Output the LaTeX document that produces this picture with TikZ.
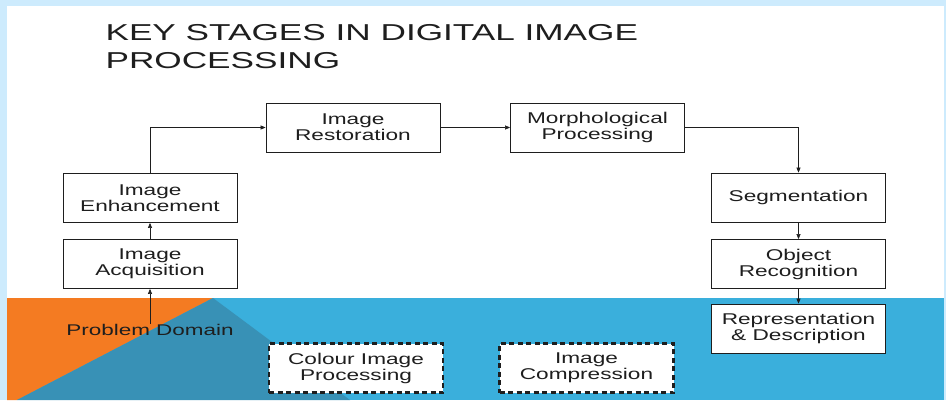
\documentclass[tikz,border=0pt]{standalone}
\usepackage{fontspec}
\usetikzlibrary{arrows.meta,positioning,calc}
\newfontfamily\stagefont[FakeStretch=1.45]{Liberation Sans}
\newfontfamily\titlefont[FakeStretch=1.53]{Liberation Sans}
\definecolor{frameblue}{HTML}{CDEBFD}
\definecolor{bandblue}{HTML}{3AAFDC}
\definecolor{bandteal}{HTML}{3891B6}
\definecolor{bandorange}{HTML}{F47B22}
\definecolor{inkgray}{HTML}{1E1E1E}
\tikzset{
  post/.style       = {-{Triangle[length=5pt,width=4pt]}, semithick, draw=inkgray},
  stage/.style      = {draw=inkgray, thick, fill=white, rectangle, minimum width=174pt,
                       minimum height=49pt, inner sep=0pt, align=center,
                       font=\stagefont\fontsize{15.6}{16}\selectfont, text=inkgray},
  spare/.style      = {stage, line width=2.4pt, dash pattern=on 5pt off 3.5pt},
  domaintext/.style = {inner sep=0pt, font=\stagefont\fontsize{15.5}{17}\selectfont, text=inkgray}
}
\begin{document}
\begin{tikzpicture}[x=1pt,y=-1pt]
  \useasboundingbox (0,0) rectangle (946,400);
  % frame and coloured band
  \fill[frameblue] (0,0) rectangle (946,400);
  \fill[white] (7,6) rectangle (944,298);
  \fill[bandblue] (7,298) rectangle (944,400);
  \fill[bandorange] (7,298) -- (213,298) -- (17,400) -- (7,400) -- cycle;
  \fill[bandteal] (213,298) -- (350,400) -- (17,400) -- cycle;

  \node[anchor=base west, align=left, text=inkgray,
        font=\titlefont\fontsize{23}{28}\selectfont] (title) at (102,68)
        {KEY STAGES IN DIGITAL IMAGE\\PROCESSING};

  % main chain
  \node[stage] (acq)   at (150,264)   {Image\\Acquisition};
  \node[stage] (enh)   at (150,198)   {Image\\Enhancement};
  \node[stage] (rest)  at (353,127.5) {Image\\Restoration};
  \node[stage] (morph) at (597.5,127.5) {Morphological\\Processing};
  \node[stage] (seg)   at (798.5,197.5) {Segmentation};
  \node[stage] (obj)   at (798.5,264) {Object\\Recognition};
  \node[stage] (rep)   at (798.5,328.5) {Representation\\\& Description};

  \node[spare] (colour) at (356,368)   {Colour Image\\Processing};
  \node[spare] (comp)   at (586.5,368) {Image\\Compression};

  \node[domaintext] (pd) at (150,330) {Problem Domain};

  \draw[post] (pd.north) -- (acq);
  \draw[post] (acq) -- (enh);
  \draw[post] (enh.north) |- (rest.west);
  \draw[post] (rest) -- (morph);
  \draw[post] (morph.east) -| (seg.north);
  \draw[post] (seg) -- (obj);
  \draw[post] (obj) -- (rep);
\end{tikzpicture}
\end{document}
